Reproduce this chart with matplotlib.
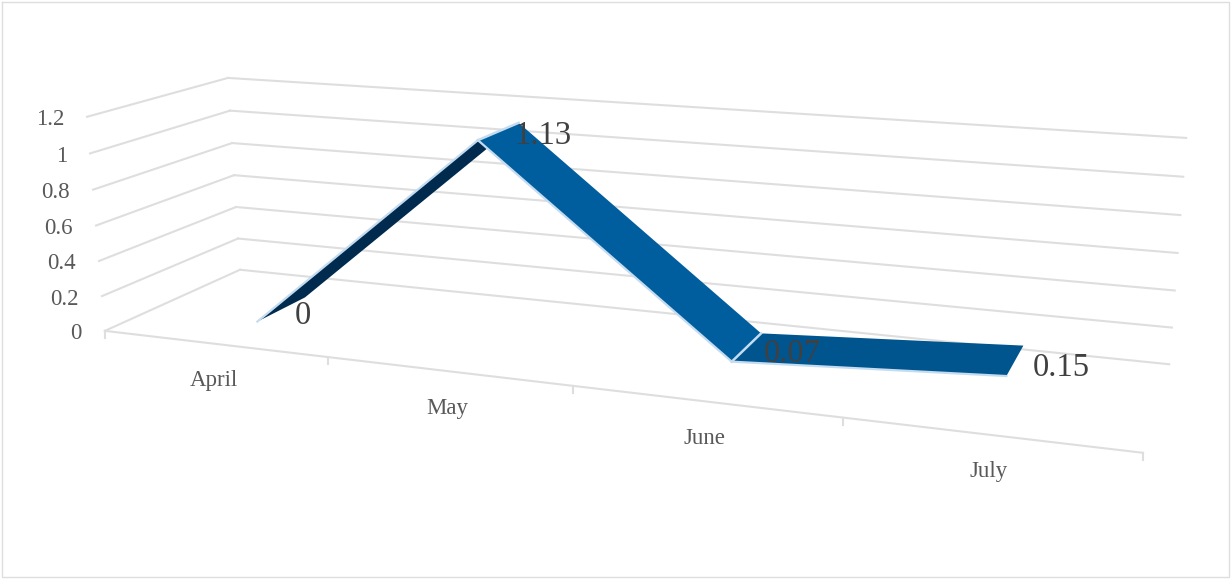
import numpy as np
import matplotlib
matplotlib.use('Agg')
import matplotlib.pyplot as plt

months = ['April', 'May', 'June', 'July']
values = [0, 1.13, 0.07, 0.15]
value_labels = ['0', '1.13', '0.07', '0.15']
z_ticks = [0, 0.2, 0.4, 0.6, 0.8, 1, 1.2]
z_tick_labels = ['0', '0.2', '0.4', '0.6', '0.8', '1', '1.2']

# ribbon depth inside the box (0 = front, 1 = back)
y_front = 0.32
y_back = 0.70
segment_colors = ['#002B4F', '#005E9F', '#00558F']
edge_color = '#C5DCF0'
grid_color = '#DEDEDE'

# camera: box corners (x, depth, z) and where they land in the image
box_points = [(0, 0, 0), (0, 1, 0), (4, 1, 0), (4, 0, 0),
              (0, 0, 1.2), (0, 1, 1.2), (4, 1, 1.2),
              (0, 0, 0.6), (0, 1, 0.6), (4, 1, 0.6)]
pixel_points = [(105, 331), (240, 270), (1169, 364), (1143, 453),
                (87, 117), (228, 78), (1186, 138),
                (96, 225), (234, 175), (1178, 253)]


def fit_camera(box, pix):
    rows = []
    for (x, y, z), (u, v) in zip(box, pix):
        u, v = u / 1000, v / 1000
        rows.append([x, y, z, 1, 0, 0, 0, 0, -u * x, -u * y, -u * z, -u])
        rows.append([0, 0, 0, 0, x, y, z, 1, -v * x, -v * y, -v * z, -v])
    _, _, vt = np.linalg.svd(np.array(rows, dtype=float))
    return vt[-1].reshape(3, 4)


P = fit_camera(box_points, pixel_points)


def project(x, y, z):
    u, v, w = P @ np.array([x, y, z, 1.0])
    return 1000 * u / w, 1000 * v / w


def line3d(ax, a, b, **kw):
    pa, pb = project(*a), project(*b)
    ax.plot([pa[0], pb[0]], [pa[1], pb[1]], **kw)


fig = plt.figure(figsize=(12.31, 5.8), dpi=100)
ax = fig.add_axes([0, 0, 1, 1])
ax.set_xlim(0, 1231)
ax.set_ylim(580, 0)
ax.axis('off')
plt.rcParams['font.family'] = ['Liberation Serif', 'DejaVu Serif']

# chart border
ax.plot([2, 1229, 1229, 2, 2], [2, 2, 577, 577, 2], color=grid_color, lw=1.0)

# walls
for z, lab in zip(z_ticks, z_tick_labels):
    a, b, c = (0, 0, z), (0, 1, z), (4, 1, z)
    line3d(ax, a, b, color=grid_color, lw=1.5)
    line3d(ax, b, c, color=grid_color, lw=1.5)
    u, v = project(*a)
    ax.text(u - 23, v + 3, lab, ha='right', va='center', fontsize=16.5, color='#595959')

# floor front edge, ticks and month names
line3d(ax, (0, 0, 0), (4, 0, 0), color=grid_color, lw=1.5)
for i in range(5):
    u, v = project(i, 0, 0)
    ax.plot([u, u], [v, v + 7], color=grid_color, lw=1.5)
for i, m in enumerate(months):
    u, v = project(i + 0.5, 0, 0)
    ax.text(u, v + 37, m, ha='center', va='center', fontsize=16.5, color='#595959')

# ribbon, left to right so later pieces cover earlier ones
for i in range(len(values) - 1):
    corners = [project(i + 0.5, y_front, values[i]),
               project(i + 1.5, y_front, values[i + 1]),
               project(i + 1.5, y_back, values[i + 1]),
               project(i + 0.5, y_back, values[i])]
    ax.fill([c[0] for c in corners], [c[1] for c in corners],
            color=segment_colors[i], lw=0, zorder=3)
    ax.plot([corners[0][0], corners[1][0]], [corners[0][1], corners[1][1]],
            color=edge_color, lw=1.6, zorder=4)
    if i > 0:
        ax.plot([corners[0][0], corners[3][0]], [corners[0][1], corners[3][1]],
                color=edge_color, lw=1.8, zorder=4)

# data labels
label_offsets = [(-2, 18), (24, 13), (31, 20), (38, 22)]
for i, (val, lab) in enumerate(zip(values, value_labels)):
    u, v = project(i + 0.5, y_back, val)
    ax.text(u + label_offsets[i][0], v + label_offsets[i][1], lab, ha='center', va='center',
            fontsize=23.5, color='#404040', zorder=5)

fig.savefig('out.png', dpi=100)
